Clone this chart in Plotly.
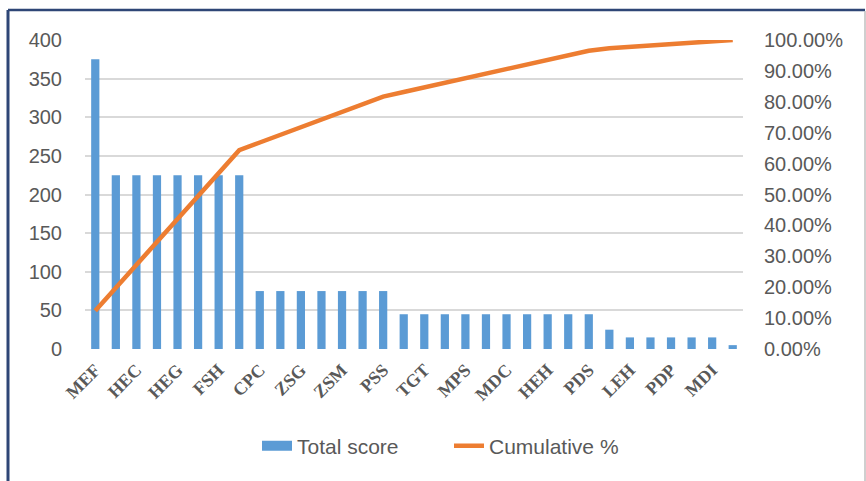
import plotly.graph_objects as go

# ---- data ----
tick_labels = ["MEF", "HEC", "HEG", "FSH", "CPC", "ZSG", "ZSM", "PSS",
               "TGT", "MPS", "MDC", "HEH", "PDS", "LEH", "PDP", "MDI"]
positions = list(range(32))
scores = [375,
          225, 225, 225, 225, 225, 225, 225,
          75, 75, 75, 75, 75, 75, 75,
          45, 45, 45, 45, 45, 45, 45, 45, 45, 45,
          25,
          15, 15, 15, 15, 15,
          5]
total = sum(scores)
cumulative = []
acc = 0
for s in scores:
    acc += s
    cumulative.append(acc / total)

tick_positions = positions[::2]

BLUE = "#5B9BD5"
ORANGE = "#ED7D31"
GREY = "#595959"
FONT = "Liberation Sans"

fig = go.Figure()
fig.add_trace(go.Bar(x=positions, y=scores, name="Total score",
                     marker=dict(color=BLUE, line=dict(width=0)),
                     yaxis="y", showlegend=False))
# legend swatch for the bars (wide rectangle like the original)
fig.add_trace(go.Scatter(x=[None], y=[None], name="Total score",
                         mode="lines", line=dict(color=BLUE, width=14),
                         yaxis="y"))
fig.add_trace(go.Scatter(x=positions, y=cumulative, name="Cumulative %",
                         mode="lines", line=dict(color=ORANGE, width=4.5),
                         yaxis="y2"))

W, H = 866, 481
L, R, T, B = 85, 123, 40, 132
pw = W - L - R
ph = H - T - B

def px(x):
    return (x - L) / pw

def py(y):
    return (H - B - y) / ph

fig.update_layout(
    width=W, height=H,
    margin=dict(l=L, r=R, t=T, b=B, pad=0),
    paper_bgcolor="white", plot_bgcolor="white",
    font=dict(family=FONT, size=20, color=GREY),
    bargap=0.6,
    showlegend=True,
    legend=dict(orientation="h", x=px(257), xanchor="left",
                y=py(446), yanchor="middle",
                font=dict(size=21, color=GREY, family=FONT),
                itemwidth=30, entrywidth=147, entrywidthmode="pixels",
                traceorder="normal"),
    xaxis=dict(range=[-0.5, 31.5], tickmode="array",
               tickvals=tick_positions, ticktext=tick_labels,
               tickangle=-45, showgrid=False, zeroline=False,
               showline=False, ticks="", ticklabelstandoff=6,
               tickfont=dict(family="Liberation Serif", size=18,
                             color=GREY, weight="bold")),
    yaxis=dict(range=[0, 400], dtick=50, showgrid=True,
               gridcolor="#D9D9D9", gridwidth=1.5, zeroline=False,
               showline=False, ticks="", ticklen=0, ticklabelstandoff=22,
               tickfont=dict(size=20, color=GREY, family=FONT)),
    yaxis2=dict(range=[0, 1], dtick=0.1, tickformat=".2%",
                overlaying="y", side="right", showgrid=False,
                zeroline=False, showline=False, ticks="",
                ticklabelstandoff=20,
                tickfont=dict(size=20, color=GREY, family=FONT)),
)

NAVY = "#2E4676"
fig.add_shape(type="line", xref="paper", yref="paper",
              x0=px(8), x1=px(8), y0=py(10), y1=py(481),
              line=dict(color=NAVY, width=3))
fig.add_shape(type="line", xref="paper", yref="paper",
              x0=px(8), x1=px(865), y0=py(10), y1=py(10),
              line=dict(color=NAVY, width=2.5))
fig.add_shape(type="line", xref="paper", yref="paper",
              x0=px(865), x1=px(865), y0=py(11), y1=py(481),
              line=dict(color="#BFBFBF", width=1.5))

fig.write_html("out.html")
